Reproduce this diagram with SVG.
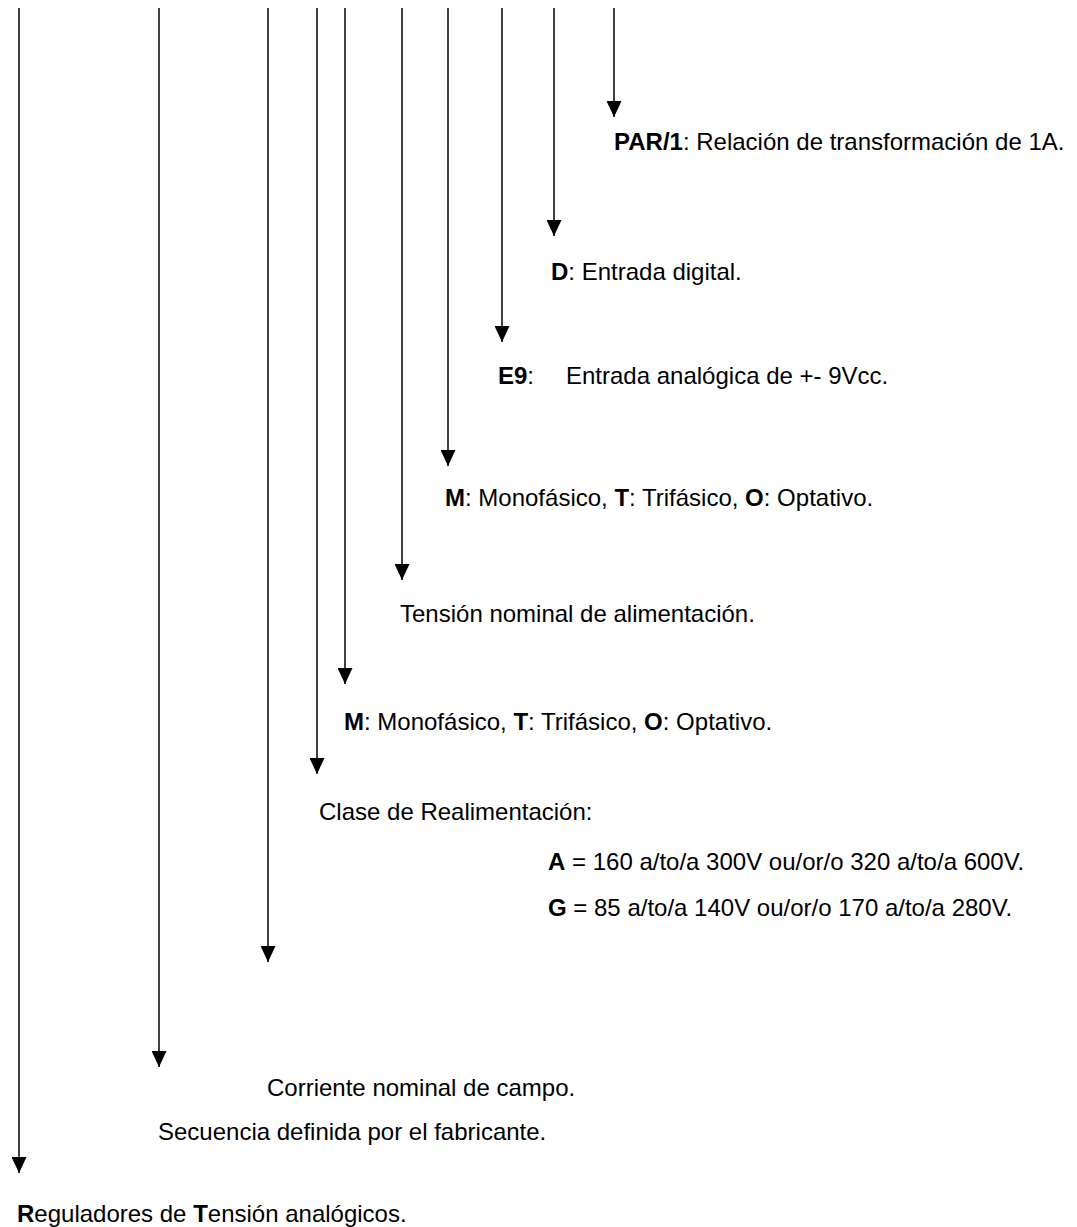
<svg xmlns="http://www.w3.org/2000/svg" width="1077" height="1227" viewBox="0 0 1077 1227">
  <style>
    text { font-family: "Liberation Sans", Arial, sans-serif; font-size: 24px; fill: #000; }
    .b { font-weight: bold; }
    .wire { stroke: #000; stroke-width: 1.5; fill: none; marker-end: url(#head); }
  </style>
  <defs>
    <!-- solid triangular arrowhead, tip at the end of each leader -->
    <marker id="head" viewBox="0 0 16 15" refX="16" refY="7.5" markerWidth="16" markerHeight="15" markerUnits="userSpaceOnUse" orient="auto">
      <path d="M0 0 L16 7.5 L0 15 Z" fill="#000"/>
    </marker>
  </defs>
  <rect width="1077" height="1227" fill="#fff"/>

  <!-- vertical leaders, each ending above its description -->
  <g id="connectors">
    <line class="wire" x1="19" y1="8" x2="19" y2="1173"/>
    <line class="wire" x1="159" y1="8" x2="159" y2="1067"/>
    <line class="wire" x1="268" y1="8" x2="268" y2="962"/>
    <line class="wire" x1="317" y1="8" x2="317" y2="774"/>
    <line class="wire" x1="345" y1="8" x2="345" y2="684"/>
    <line class="wire" x1="402" y1="8" x2="402" y2="580"/>
    <line class="wire" x1="448" y1="8" x2="448" y2="466"/>
    <line class="wire" x1="502" y1="8" x2="502" y2="342"/>
    <line class="wire" x1="554" y1="8" x2="554" y2="236"/>
    <line class="wire" x1="614" y1="8" x2="614" y2="117"/>
  </g>

  <g id="par1">
    <text x="614" y="150"><tspan class="b">PAR/1</tspan>: Relación de transformación de 1A.</text>
  </g>
  <g id="digital">
    <text x="551" y="280"><tspan class="b">D</tspan>: Entrada digital.</text>
  </g>
  <g id="e9">
    <text x="498" y="384"><tspan class="b">E9</tspan>:<tspan x="566">Entrada analógica de +- 9Vcc.</tspan></text>
  </g>
  <g id="fases-medida">
    <text x="445" y="506"><tspan class="b">M</tspan>: Monofásico, <tspan class="b">T</tspan>: Trifásico, <tspan class="b">O</tspan>: Optativo.</text>
  </g>
  <g id="alimentacion">
    <text x="400" y="622">Tensión nominal de alimentación.</text>
  </g>
  <g id="fases-alimentacion">
    <text x="344" y="730"><tspan class="b">M</tspan>: Monofásico, <tspan class="b">T</tspan>: Trifásico, <tspan class="b">O</tspan>: Optativo.</text>
  </g>
  <g id="realimentacion">
    <text x="319" y="820">Clase de Realimentación:</text>
    <text x="548" y="870"><tspan class="b">A</tspan> = 160 a/to/a 300V ou/or/o 320 a/to/a 600V.</text>
    <text x="548" y="916"><tspan class="b">G</tspan> = 85 a/to/a 140V ou/or/o 170 a/to/a 280V.</text>
  </g>
  <g id="corriente">
    <text x="267" y="1096">Corriente nominal de campo.</text>
  </g>
  <g id="secuencia">
    <text x="158" y="1140">Secuencia definida por el fabricante.</text>
  </g>
  <g id="reguladores">
    <text x="17" y="1222"><tspan class="b">R</tspan>eguladores de <tspan class="b">T</tspan>ensión analógicos.</text>
  </g>
</svg>
